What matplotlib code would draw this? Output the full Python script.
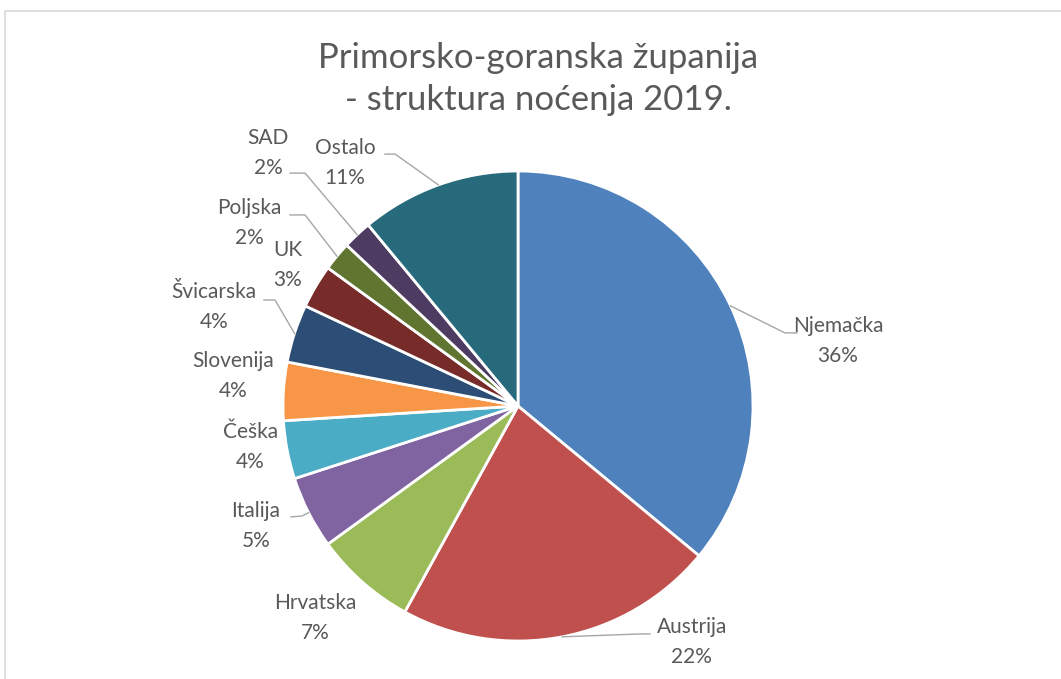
import matplotlib.pyplot as plt
import numpy as np
from matplotlib.patches import Rectangle

# data
countries = ["Njemačka", "Austrija", "Hrvatska", "Italija", "Češka", "Slovenija",
             "Švicarska", "UK", "Poljska", "SAD", "Ostalo"]
shares = [36, 22, 7, 5, 4, 4, 4, 3, 2, 2, 11]
colors = ["#4F81BD", "#C0504D", "#9BBB59", "#8064A2", "#4BACC6", "#F79646",
          "#2C4D75", "#772C2A", "#5F7530", "#4D3B62", "#276A7C"]
title = "Primorsko-goranska županija\n- struktura noćenja 2019."

# label layout (pie radius = 1, centre = 0,0)
label_pos = {
    "Njemačka": (1.362, 0.277), "Austrija": (0.740, -1.004), "Hrvatska": (-0.864, -0.902),
    "Italija": (-1.115, -0.511), "Češka": (-1.140, -0.174), "Slovenija": (-1.213, 0.128),
    "Švicarska": (-1.294, 0.421), "UK": (-0.979, 0.600), "Poljska": (-1.145, 0.779),
    "SAD": (-1.064, 1.077), "Ostalo": (-0.736, 1.034),
}
# leader lines: elbow point, end point
leaders = {
    "Njemačka": ((1.136, 0.311), (1.187, 0.311)),
    "Austrija": ((0.519, -0.970), (0.562, -0.970)),
    "Italija": ((-0.919, -0.468), (-0.966, -0.472)),
    "Švicarska": ((-1.034, 0.451), (-1.081, 0.451)),
    "Poljska": ((-0.906, 0.813), (-0.970, 0.813)),
    "SAD": ((-0.906, 0.991), (-0.970, 0.991)),
    "Ostalo": ((-0.523, 1.072), (-0.566, 1.072)),
}

plt.rcParams['font.family'] = ['Lato', 'DejaVu Sans']
txt_col = '#595959'
W, H = 1061, 679
fig = plt.figure(figsize=(W/100, H/100), dpi=100)

# chart border
fig.patches.append(Rectangle((5/W, -0.05), 1.2, 1 - 11/H + 0.05, transform=fig.transFigure,
                             fill=False, edgecolor='#D9D9D9', linewidth=1.2))

R = 235
cx, cy = 518, 406
ax = fig.add_axes([(cx - R)/W, 1 - (cy + R)/H, 2*R/W, 2*R/H])
wedges, _ = ax.pie(shares, colors=colors, startangle=90, counterclock=False, radius=1,
                   wedgeprops=dict(edgecolor='white', linewidth=2))
ax.set_xlim(-1, 1)
ax.set_ylim(-1, 1)
ax.set_aspect('equal')

for w, name, s in zip(wedges, countries, shares):
    x, y = label_pos[name]
    ax.text(x, y, f"{name}\n{s}%", ha='center', va='center', fontsize=15,
            color=txt_col, linespacing=1.65, clip_on=False)
    if name in leaders:
        ang = np.deg2rad((w.theta1 + w.theta2) / 2)
        (ex, ey), (tx, ty) = leaders[name]
        ax.plot([np.cos(ang), ex, tx], [np.sin(ang), ey, ty], color='#A6A6A6',
                linewidth=1, clip_on=False)

fig.text(538/W, 1 - 79/H, title, ha='center', va='center', fontsize=25,
         color=txt_col, linespacing=1.4)

plt.savefig('out.png', dpi=100)
